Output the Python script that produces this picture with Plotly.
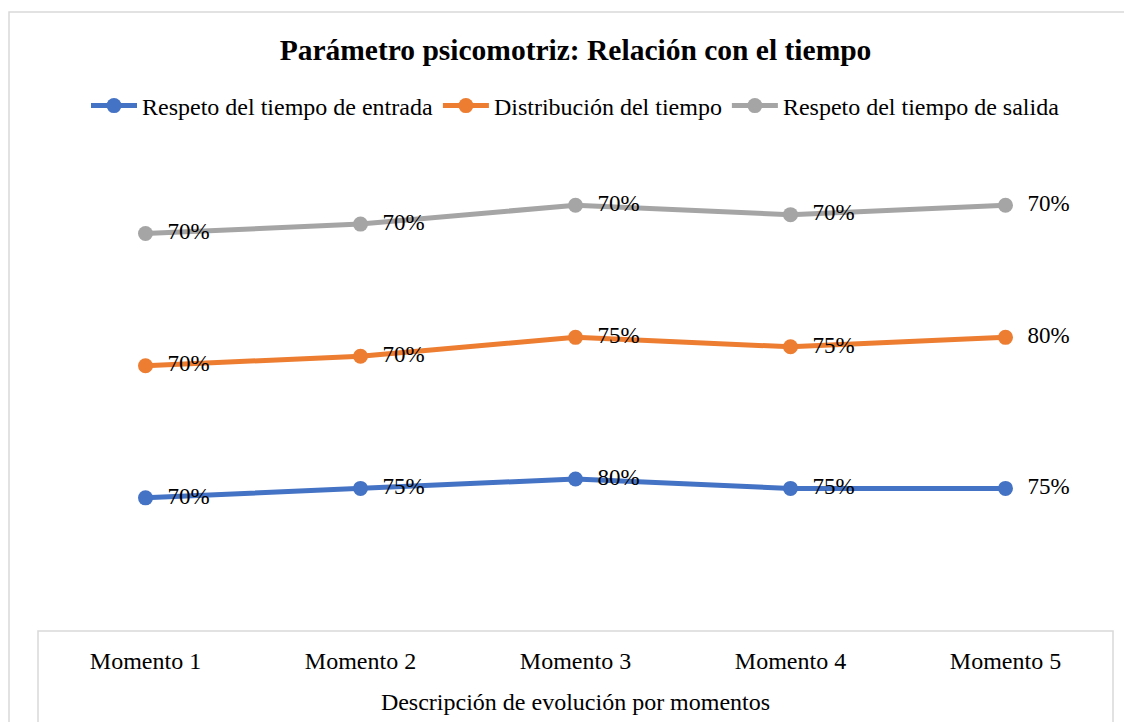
import plotly.graph_objects as go

categories = ["Momento 1", "Momento 2", "Momento 3", "Momento 4", "Momento 5"]
series_names = ["Respeto del tiempo de entrada", "Distribución del tiempo", "Respeto del tiempo de salida"]
entrada = [70, 75, 80, 75, 75]
distribucion = [70, 70, 75, 75, 80]
salida = [70, 70, 70, 70, 70]
colors = ["#4472C4", "#ED7D31", "#A5A5A5"]

OFF = 8  # page body margin
W, H = 1132 - OFF, 722 - OFF
L, R, T, B = 30, 19, 150, 92
FONT = "Liberation Serif, Times New Roman, serif"

fig = go.Figure()
for name, vals, col in zip(series_names, [entrada, distribucion, salida], colors):
    fig.add_trace(go.Scatter(
        x=categories, y=vals, name=name, stackgroup="one", fill="none",
        mode="lines+markers+text",
        line=dict(color=col, width=5),
        marker=dict(color=col, size=15),
        text=[f"\u00a0\u00a0{v}%" for v in vals],
        textposition="middle right",
        textfont=dict(family=FONT, size=23, color="black"),
        cliponaxis=False,
    ))

pw = W - L - R
ph = H - T - B
def px_x(p):
    return (p - OFF - L) / pw
def px_y(p):
    return (H - B - (p - OFF)) / ph

shapes = [
    dict(type="rect", xref="paper", yref="paper",
         x0=px_x(9), x1=px_x(1150), y0=px_y(760), y1=px_y(12),
         line=dict(color="#d9d9d9", width=1.5), layer="below"),
    dict(type="rect", xref="paper", yref="paper",
         x0=0, x1=1, y0=px_y(760), y1=px_y(631),
         line=dict(color="#d9d9d9", width=1.5), layer="below"),
]

fig.update_layout(
    width=W, height=H,
    margin=dict(l=L, r=R, t=T, b=B),
    paper_bgcolor="white", plot_bgcolor="white",
    font=dict(family=FONT, size=23, color="black"),
    title=dict(text="<b>Parámetro psicomotriz: Relación con el tiempo</b>",
               font=dict(family=FONT, size=29.5, color="black"),
               x=0.5, xref="paper", xanchor="center",
               y=1 - (50 - OFF) / H, yref="container", yanchor="middle"),
    legend=dict(orientation="h", x=0.5, xref="paper", xanchor="center",
                y=1 - (106 - OFF) / H, yref="container", yanchor="middle",
                font=dict(family=FONT, size=24, color="black"),
                itemwidth=46, tracegroupgap=0),
    showlegend=True,
    shapes=shapes,
    xaxis=dict(type="category", range=[-0.5, 4.5], showgrid=False, zeroline=False,
               showline=False, ticks="", ticklabelstandoff=14,
               tickfont=dict(family=FONT, size=24, color="black"),
               title=dict(text="Descripción de evolución por momentos",
                          font=dict(family=FONT, size=24, color="black"), standoff=20)),
    yaxis=dict(range=[0, 250], showgrid=False, zeroline=False, showline=False,
               showticklabels=False, ticks=""),
)

fig.write_html("out.html")
